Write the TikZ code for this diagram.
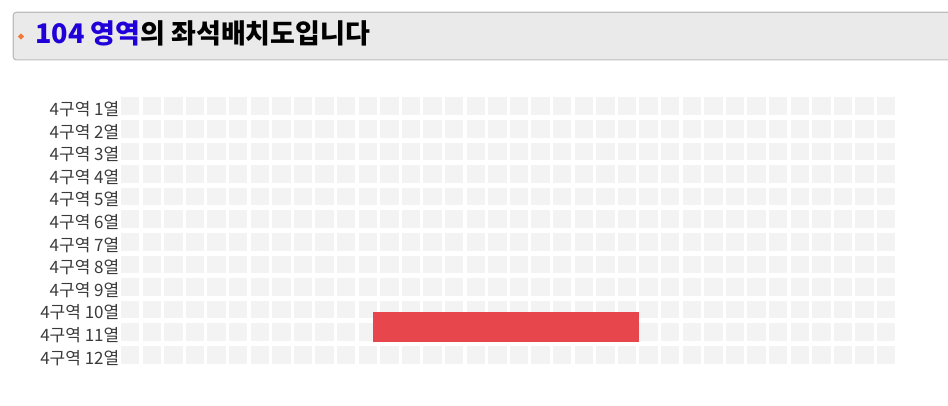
\documentclass[tikz,border=0pt]{standalone}
\usepackage{fontspec}
\setmainfont{Noto Sans CJK KR}
\usetikzlibrary{positioning,shapes.geometric}
\definecolor{seatgray}{HTML}{F3F3F3}
\definecolor{labelgray}{HTML}{3A3A3A}
\definecolor{headfill}{HTML}{EAEAEA}
\definecolor{headline}{HTML}{BDBDBD}
\definecolor{areablue}{HTML}{2000D8}
\definecolor{bulletorange}{HTML}{F07A3A}
\definecolor{pickred}{HTML}{E8464D}

\begin{document}
\begin{tikzpicture}[
    x=1pt, y=-1pt,
    seat/.style={fill=seatgray, rectangle, minimum width=18.4pt, minimum height=17.7pt, inner sep=0pt},
    rowlabel/.style={anchor=base east, font=\fontsize{17}{19}\selectfont, text=labelgray, inner sep=0pt},
    headbar/.style={draw=headline, fill=headfill, rectangle, rounded corners=3pt, line width=1.2pt, anchor=north west, minimum width=945pt, minimum height=47.6pt, inner sep=0pt},
    picked/.style={fill=pickred, rectangle, inner sep=0pt}
]
\useasboundingbox (0,0) rectangle (948,406);

\node[headbar] (h_bar) at (12.7,11.7) {};
\node[diamond, fill=bulletorange, inner sep=0pt, minimum size=6.5pt] (h_dot) at (21,36.5) {};
\node[anchor=base west, inner sep=0pt, font=\fontsize{27}{30}\selectfont\bfseries] (h_title) at (35,44) {\textcolor{areablue}{104 영역}의 좌석배치도입니다};

\foreach \r in {1,...,12} {
  \node[rowlabel] (lbl_\r) at (119.5,{115.5+(\r-1)*22.6}) {4구역 {\r}열};
  \foreach \c in {1,...,36}
    \node[seat] (s_\r_\c) at ({130.2+(\c-1)*21.6},{106.2+(\r-1)*22.6}) {};
}

\node[picked, minimum width=266pt, minimum height=30.6pt] (sel) at (506.3,327) {};

\end{tikzpicture}
\end{document}
